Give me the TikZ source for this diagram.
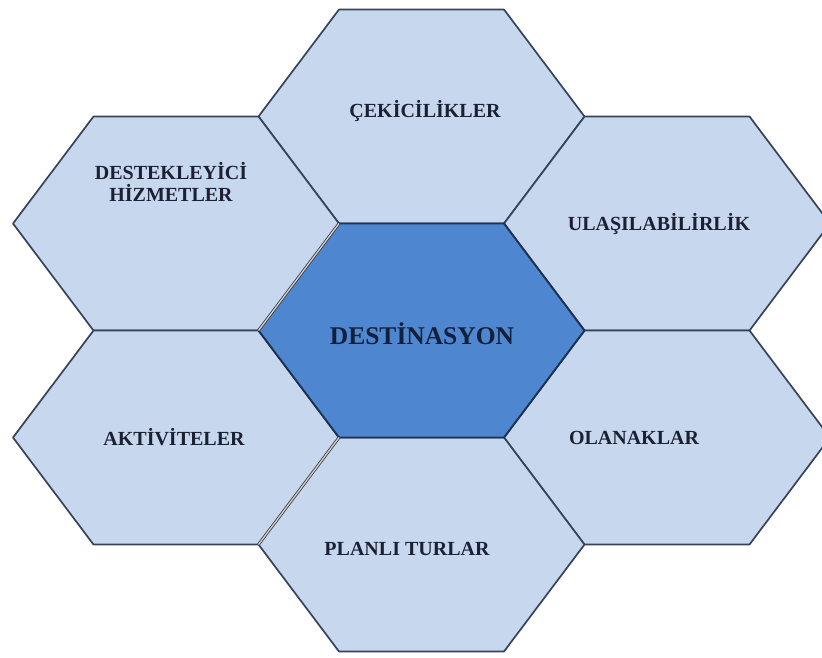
\documentclass[tikz,border=0pt]{standalone}
\usepackage{fontspec}
\setmainfont{Liberation Serif}
\definecolor{cellfill}{HTML}{C7D7ED}
\definecolor{corefill}{HTML}{4E86D0}
\definecolor{celledge}{HTML}{36445A}
\definecolor{coreedge}{HTML}{1D3152}
\definecolor{labelink}{HTML}{1B2133}
\definecolor{coreink}{HTML}{12203C}
\tikzset{
  cell/.style={fill=cellfill, draw=celledge, line width=1.7pt, line join=round},
  core/.style={fill=corefill, draw=coreedge, line width=1.9pt, line join=round},
  seam/.style={draw=gray!45!black, double=gray!35, line width=0.8pt, double distance=1.3pt},
  celltext/.style={font=\bfseries\fontsize{20}{21.5}\selectfont, text=labelink,
    anchor=base, inner sep=0pt, align=center},
  coretext/.style={font=\bfseries\fontsize{25.5}{27}\selectfont, text=coreink,
    anchor=base, inner sep=0pt},
  pics/hexcell/.style={code={
    \path[#1] (-163,0) -- (-82.5,-107) -- (82.5,-107) -- (163,0)
      -- (82.5,107) -- (-82.5,107) -- cycle;}}
}
\begin{document}
\begin{tikzpicture}[x=1pt, y=-1pt]
  \useasboundingbox (0,0) rectangle (822,657);
  % centres of the seven cells (column step 245.5, half row 107)
  \coordinate (cTop) at (421.5,116.5);
  \coordinate (cUL)  at (176,223.5);
  \coordinate (cUR)  at (667,223.5);
  \coordinate (cMid) at (421.5,330.5);
  \coordinate (cLL)  at (176,437.5);
  \coordinate (cLR)  at (667,437.5);
  \coordinate (cBot) at (421.5,544.5);
  % outer ring
  \pic (top) at (cTop) {hexcell=cell};
  \pic (ul)  at (cUL)  {hexcell=cell};
  \pic (ur)  at (cUR)  {hexcell=cell};
  \pic (ll)  at (cLL)  {hexcell=cell};
  \pic (lr)  at (cLR)  {hexcell=cell};
  \pic (bot) at (cBot) {hexcell=cell};
  % central cell
  \pic (mid) at (cMid) {hexcell=core};
  % doubled seams
  \coordinate (sA1) at (258.5,330.5);
  \coordinate (sA2) at (339,223.5);
  \coordinate (sB1) at (339,437.5);
  \coordinate (sB2) at (258.5,544.5);
  \draw[seam] (sA1) -- (sA2);
  \draw[seam] (sB1) -- (sB2);
  % labels
  \node[celltext] (tCek) at (425,117) {ÇEKİCİLİKLER};
  \node[celltext] (tDes) at (171,201) {DESTEKLEYİCİ\\HİZMETLER};
  \node[celltext] (tUla) at (659,230) {ULAŞILABİLİRLİK};
  \node[coretext] (tMid) at (422,344) {DESTİNASYON};
  \node[celltext] (tAkt) at (174,445) {AKTİVİTELER};
  \node[celltext] (tOla) at (634,444) {OLANAKLAR};
  \node[celltext] (tPla) at (407,555) {PLANLI TURLAR};
\end{tikzpicture}
\end{document}
